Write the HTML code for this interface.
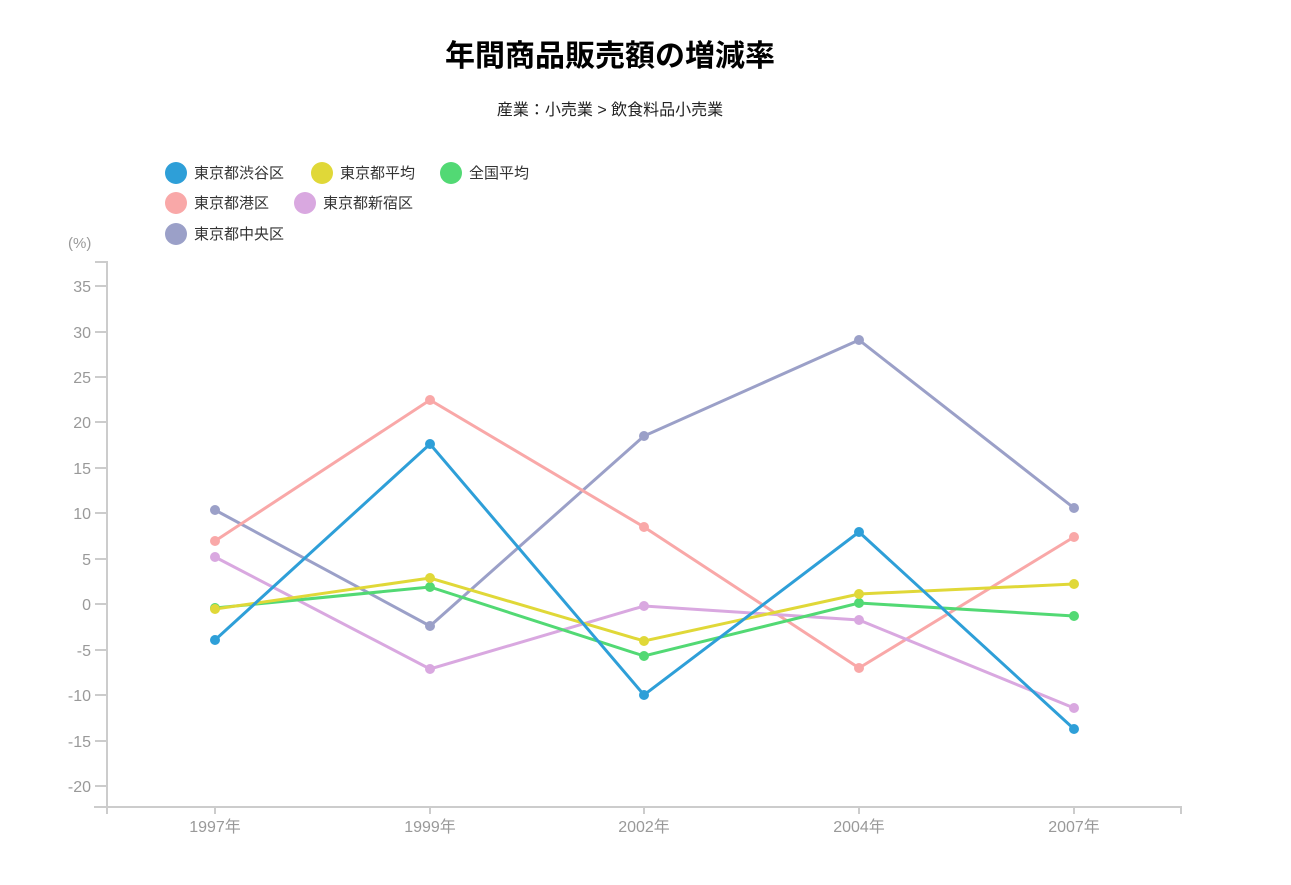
<!DOCTYPE html>
<html><head><meta charset="utf-8"><style>
body{margin:0;background:#fff;width:1291px;height:880px;overflow:hidden}
svg text{font-family:"Liberation Sans","Noto Sans CJK JP",sans-serif}
</style></head><body>
<svg width="1291" height="880" xmlns="http://www.w3.org/2000/svg">
<text x="610" y="66" text-anchor="middle" font-size="30" font-weight="bold" fill="#000">年間商品販売額の増減率</text>
<text x="610" y="115" text-anchor="middle" font-size="16" fill="#222">産業：小売業 &gt; 飲食料品小売業</text>
<g font-size="15" fill="#333">
<circle cx="176" cy="173" r="11" fill="#2e9fd8"/><text x="194" y="178">東京都渋谷区</text>
<circle cx="322" cy="173" r="11" fill="#e0d838"/><text x="340" y="178">東京都平均</text>
<circle cx="451" cy="173" r="11" fill="#52d974"/><text x="469" y="178">全国平均</text>
<circle cx="176" cy="203" r="11" fill="#f9a8a8"/><text x="194" y="208">東京都港区</text>
<circle cx="305" cy="203" r="11" fill="#d9a8e0"/><text x="323" y="208">東京都新宿区</text>
<circle cx="176" cy="234" r="11" fill="#9ba0c8"/><text x="194" y="239">東京都中央区</text>
</g>
<text x="68" y="248" font-size="15" fill="#999">(%)</text>
<g stroke="#ccc" stroke-width="2" fill="none">
<path d="M95 262H107V807"/><path d="M94 807H1181V814"/>
<path d="M95 286H107M95 332H107M95 377H107M95 422H107M95 468H107M95 513H107M95 559H107M95 604H107M95 650H107M95 695H107M95 741H107M95 786H107"/>
<path d="M107 807V814M215 807V814M430 807V814M644 807V814M859 807V814M1074 807V814"/>
</g>
<g font-size="16" fill="#999" text-anchor="end">
<text x="91" y="292">35</text><text x="91" y="338">30</text><text x="91" y="383">25</text><text x="91" y="428">20</text><text x="91" y="474">15</text><text x="91" y="519">10</text><text x="91" y="565">5</text><text x="91" y="610">0</text><text x="91" y="656">-5</text><text x="91" y="701">-10</text><text x="91" y="747">-15</text><text x="91" y="792">-20</text>
</g>
<g font-size="16" fill="#999" text-anchor="middle">
<text x="215" y="832">1997年</text><text x="430" y="832">1999年</text><text x="644" y="832">2002年</text><text x="859" y="832">2004年</text><text x="1074" y="832">2007年</text>
</g>
<g fill="none" stroke-width="3">
<polyline stroke="#9ba0c8" points="215,510 430,626 644,436 859,340 1074,508"/>
<polyline stroke="#f9a8a8" points="215,541 430,400 644,527 859,668 1074,537"/>
<polyline stroke="#d9a8e0" points="215,557 430,669 644,606 859,620 1074,708"/>
<polyline stroke="#52d974" points="215,608 430,587 644,656 859,603 1074,616"/>
<polyline stroke="#e0d838" points="215,609 430,578 644,641 859,594 1074,584"/>
<polyline stroke="#2e9fd8" points="215,640 430,444 644,695 859,532 1074,729"/>
</g>
<g fill="#9ba0c8"><circle cx="215" cy="510" r="5"/><circle cx="430" cy="626" r="5"/><circle cx="644" cy="436" r="5"/><circle cx="859" cy="340" r="5"/><circle cx="1074" cy="508" r="5"/></g>
<g fill="#f9a8a8"><circle cx="215" cy="541" r="5"/><circle cx="430" cy="400" r="5"/><circle cx="644" cy="527" r="5"/><circle cx="859" cy="668" r="5"/><circle cx="1074" cy="537" r="5"/></g>
<g fill="#d9a8e0"><circle cx="215" cy="557" r="5"/><circle cx="430" cy="669" r="5"/><circle cx="644" cy="606" r="5"/><circle cx="859" cy="620" r="5"/><circle cx="1074" cy="708" r="5"/></g>
<g fill="#52d974"><circle cx="215" cy="608" r="5"/><circle cx="430" cy="587" r="5"/><circle cx="644" cy="656" r="5"/><circle cx="859" cy="603" r="5"/><circle cx="1074" cy="616" r="5"/></g>
<g fill="#e0d838"><circle cx="215" cy="609" r="5"/><circle cx="430" cy="578" r="5"/><circle cx="644" cy="641" r="5"/><circle cx="859" cy="594" r="5"/><circle cx="1074" cy="584" r="5"/></g>
<g fill="#2e9fd8"><circle cx="215" cy="640" r="5"/><circle cx="430" cy="444" r="5"/><circle cx="644" cy="695" r="5"/><circle cx="859" cy="532" r="5"/><circle cx="1074" cy="729" r="5"/></g>
</svg>
</body></html>
